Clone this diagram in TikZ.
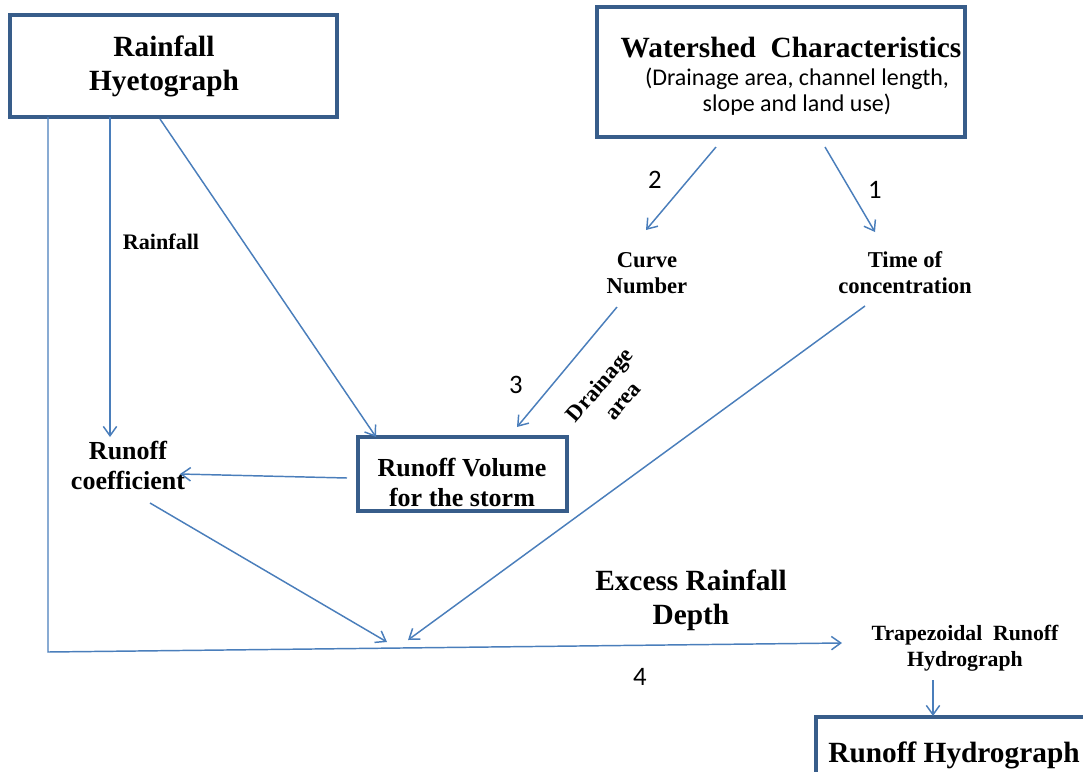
\documentclass[tikz,border=0pt]{standalone}
\usepackage{fontspec}
\setmainfont{Liberation Serif}
\newfontfamily\calfont{Carlito}
\usetikzlibrary{arrows.meta}
\definecolor{boxblue}{RGB}{56,93,138}
\definecolor{lineblue}{RGB}{74,126,187}
\def\pxu{0.75pt}
\tikzset{
  boxnode/.style={draw=boxblue, line width=2.4pt, fill=none, inner sep=0pt},
  bigtitle/.style={font=\bfseries\fontsize{22}{25.5}\selectfont, align=center, inner sep=0pt},
  midtitle/.style={font=\bfseries\fontsize{19.5}{22.5}\selectfont, align=center, inner sep=0pt},
  smalltitle/.style={font=\bfseries\fontsize{17}{19.5}\selectfont, align=center, inner sep=0pt},
  subtext/.style={font=\calfont\fontsize{18}{19.5}\selectfont, align=center, inner sep=0pt},
  numtext/.style={font=\calfont\fontsize{20}{24}\selectfont, inner sep=0pt},
  rottext/.style={font=\bfseries\fontsize{17}{19}\selectfont, inner sep=0pt, rotate=49},
  arr/.style={draw=lineblue, line width=1.1pt, -{Straight Barb[length=7pt,width=10pt]}},
  ln/.style={draw=lineblue, line width=1.1pt}
}
\begin{document}
\begin{tikzpicture}[x=0.75pt,y=-0.75pt]
\useasboundingbox (0,0) rectangle (1083,772);
% boxes
\node[boxnode, minimum width=327*\pxu, minimum height=102*\pxu] (hy) at (173.5,66) {};
\node[bigtitle] (hyt) at (164,66) {Rainfall\\Hyetograph};
\node[boxnode, minimum width=368*\pxu, minimum height=130*\pxu] (ws) at (781,72) {};
\node[bigtitle, anchor=base] (wst) at (791,57) {Watershed\ \ Characteristics};
\node[subtext] (wss) at (797,92) {(Drainage area, channel length,\\slope and land use)};
\node[boxnode, minimum width=209*\pxu, minimum height=74*\pxu] (rv) at (462.5,474) {};
\node[midtitle] (rvt) at (462,482) {Runoff Volume\\for the storm};
\begin{scope}
\clip (0,0) rectangle (1083,772);
\node[boxnode, minimum width=290*\pxu, minimum height=80*\pxu] (rh) at (961,757) {};
\end{scope}
\node[bigtitle, anchor=base] (rht) at (954,762) {Runoff Hydrograph};
% text nodes
\node[smalltitle] (cn) at (647,273) {Curve\\Number};
\node[smalltitle] (tc) at (905,273) {Time of\\concentration};
\node[midtitle] (rc) at (128,465) {Runoff\\coefficient};
\node[bigtitle] (erd) at (691,600) {Excess Rainfall\\Depth};
\node[smalltitle, font=\bfseries\fontsize{16.3}{19.5}\selectfont] (trh) at (965,648) {Trapezoidal\ \ Runoff\\Hydrograph};
\node[smalltitle, font=\bfseries\fontsize{16.6}{19}\selectfont] (rain) at (161,242) {Rainfall};
\node[rottext] (drain1) at (601,386) {Drainage};
\node[rottext] (drain2) at (624,402) {area};
\node[numtext] (n2) at (655,180) {2};
\node[numtext] (n1) at (875,190) {1};
\node[numtext] (n3) at (516,385) {3};
\node[numtext] (n4) at (640,677) {4};
% connector end points
\coordinate (a1s) at (110,117); \coordinate (a1e) at (110,437);
\coordinate (a2s) at (160,119); \coordinate (a2e) at (376,437);
\coordinate (a3s) at (48,117);  \coordinate (a3c) at (48,652); \coordinate (a3e) at (842,643);
\coordinate (a4s) at (716,147); \coordinate (a4e) at (646,230);
\coordinate (a5s) at (825,147); \coordinate (a5e) at (875,232);
\coordinate (a6s) at (617,307); \coordinate (a6e) at (517,427);
\coordinate (a7s) at (865,306); \coordinate (a7e) at (408,640);
\coordinate (a8s) at (347,478); \coordinate (a8e) at (180,474);
\coordinate (a9s) at (150,503); \coordinate (a9e) at (387,642);
\coordinate (a10s) at (933,680); \coordinate (a10e) at (933,716);
% connectors
\draw[arr] (a1s) -- (a1e);
\draw[arr] (a2s) -- (a2e);
\draw[arr] (a3s) -- (a3c) -- (a3e);
\draw[arr] (a4s) -- (a4e);
\draw[arr] (a5s) -- (a5e);
\draw[arr] (a6s) -- (a6e);
\draw[arr] (a7s) -- (a7e);
\draw[arr] (a8s) -- (a8e);
\draw[arr] (a9s) -- (a9e);
\draw[arr] (a10s) -- (a10e);
\end{tikzpicture}
\end{document}
